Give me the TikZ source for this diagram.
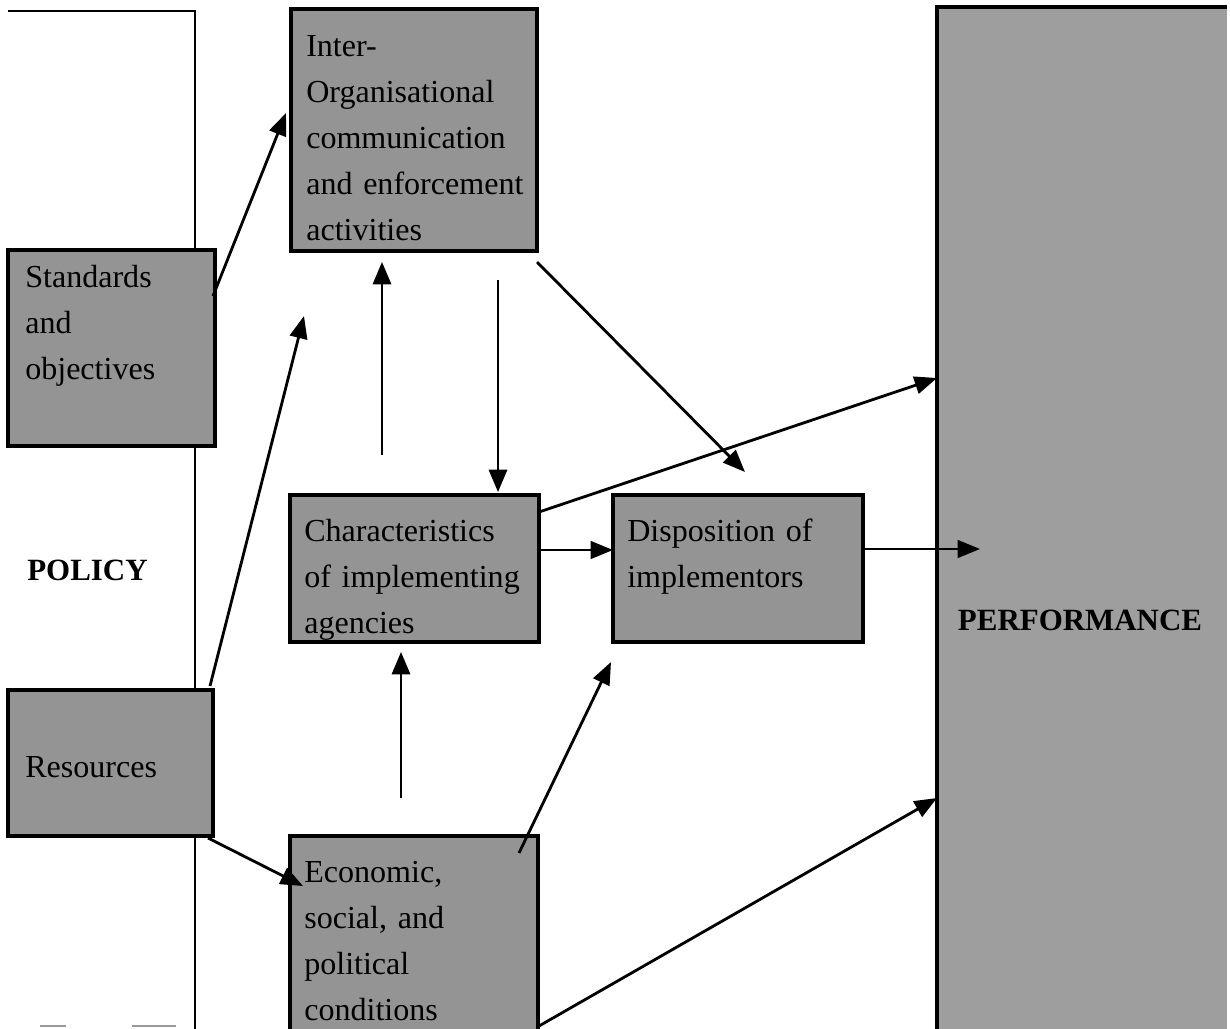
\documentclass[tikz,border=0pt]{standalone}
\usepackage{fontspec}
\setmainfont{Liberation Serif}
\usetikzlibrary{arrows.meta,calc}

\definecolor{boxgray}{gray}{0.58}
\definecolor{perfgray}{gray}{0.62}
\newcommand\boxfont{\fontsize{22.8}{32.7}\selectfont}
\newcommand\headfont{\fontsize{22}{32.7}\selectfont\bfseries}

\tikzset{
  x=0.025cm, y=-0.025cm,
  box/.style={draw=black, line width=2.2pt, fill=boxgray, rectangle,
    anchor=north west, inner sep=0pt, outer sep=0pt},
  boxtext/.style={anchor=north west, inner sep=0pt, text width=5.9cm,
    align=left, font=\boxfont},
  heading/.style={inner sep=0pt, font=\headfont},
  arr/.style={line width=2pt, -{Triangle[length=0.56cm,width=0.44cm]}},
  varr/.style={line width=1.5pt, -{Triangle[length=0.56cm,width=0.46cm]}},
  frame/.style={line width=1.8pt}
}

\begin{document}
\begin{tikzpicture}
\useasboundingbox (0,0) rectangle (1230,1028);
\fill[white] (0,0) rectangle (1230,1028);
\clip (0,0) rectangle (1230,1028);

% POLICY column outline
\coordinate (pol-tl) at (8,11);
\coordinate (pol-tr) at (195,11);
\coordinate (pol-br) at (195,1040);
\draw[frame] (pol-tl) -- (pol-tr) -- (pol-br);
\draw[black!40, line width=1pt] (40,1026) -- (66,1026) (132,1026) -- (176,1026);
\node[heading, anchor=base west] (policy) at (27,580) {POLICY};

% PERFORMANCE column
\node[rectangle, fill=perfgray, anchor=north west, inner sep=0pt, outer sep=0pt,
  minimum width=0.025cm*290, minimum height=0.025cm*1060] (perf) at (937,7) {};
\draw[line width=2.4pt] (perf.south west) -- (perf.north west) -- (perf.north east);
\node[heading, anchor=base] (perftext) at (1080,630) {PERFORMANCE};

% Boxes
\node[box, minimum width=0.025cm*246, minimum height=0.025cm*242] (inter) at (291,9) {};
\node[box, minimum width=0.025cm*207, minimum height=0.025cm*196] (std) at (8,250) {};
\node[box, minimum width=0.025cm*205, minimum height=0.025cm*146] (res) at (8,690) {};
\node[box, minimum width=0.025cm*249, minimum height=0.025cm*147] (chr) at (290,495) {};
\node[box, minimum width=0.025cm*250, minimum height=0.025cm*147] (dsp) at (613,495) {};
\node[box, minimum width=0.025cm*248, minimum height=0.025cm*230] (eco) at (290,836) {};

% Box texts
\node[boxtext] (intertext) at (306,24)
  {\strut Inter-\\Organisational\\communication\\and enforcement\\activities};
\node[boxtext] (stdtext) at (25,255) {\strut Standards\\and\\objectives};
\node[boxtext] (restext) at (25,745) {\strut Resources};
\node[boxtext] (chrtext) at (304,509)
  {\strut Characteristics\\of implementing\\agencies};
\node[boxtext] (dsptext) at (627,509) {\strut Disposition of\\implementors};
\node[boxtext] (ecotext) at (304,850)
  {\strut Economic,\\social, and\\political\\conditions};

% Connectors
\draw[arr] ($(std.north east)+(-2,46)$) -- ($(inter.north west)+(-5,104)$);
\draw[arr] ($(res.north east)+(-3,-4)$) -- ($(inter.south west)+(13,65)$);
\draw[arr] ($(res.south east)+(-5,2)$) -- ($(eco.north west)+(13,50)$);
\draw[varr] ($(chr.north west)+(92,-40)$) -- ($(inter.south west)+(91,11)$);
\draw[varr] ($(inter.south west)+(207,29)$) -- ($(chr.north west)+(208,-3)$);
\draw[arr] ($(inter.south east)+(0,11)$) -- ($(dsp.north west)+(132,-23)$);
\draw[arr] ($(chr.north east)+(0,17)$) -- ($(perf.north west)+(0,371)$);
\draw[arr] ($(chr.north east)+(1,55)$) -- ($(dsp.north west)+(0,55)$);
\draw[arr] ($(dsp.north east)+(2,54)$) -- ($(perf.north west)+(43,542)$);
\draw[varr] ($(eco.north west)+(111,-38)$) -- ($(chr.south west)+(111,10)$);
\draw[arr] ($(eco.north east)+(-19,17)$) -- ($(dsp.south west)+(-2,20)$);
\draw[arr] ($(eco.north east)+(1,190)$) -- ($(perf.north west)+(0,791)$);
\end{tikzpicture}
\end{document}
